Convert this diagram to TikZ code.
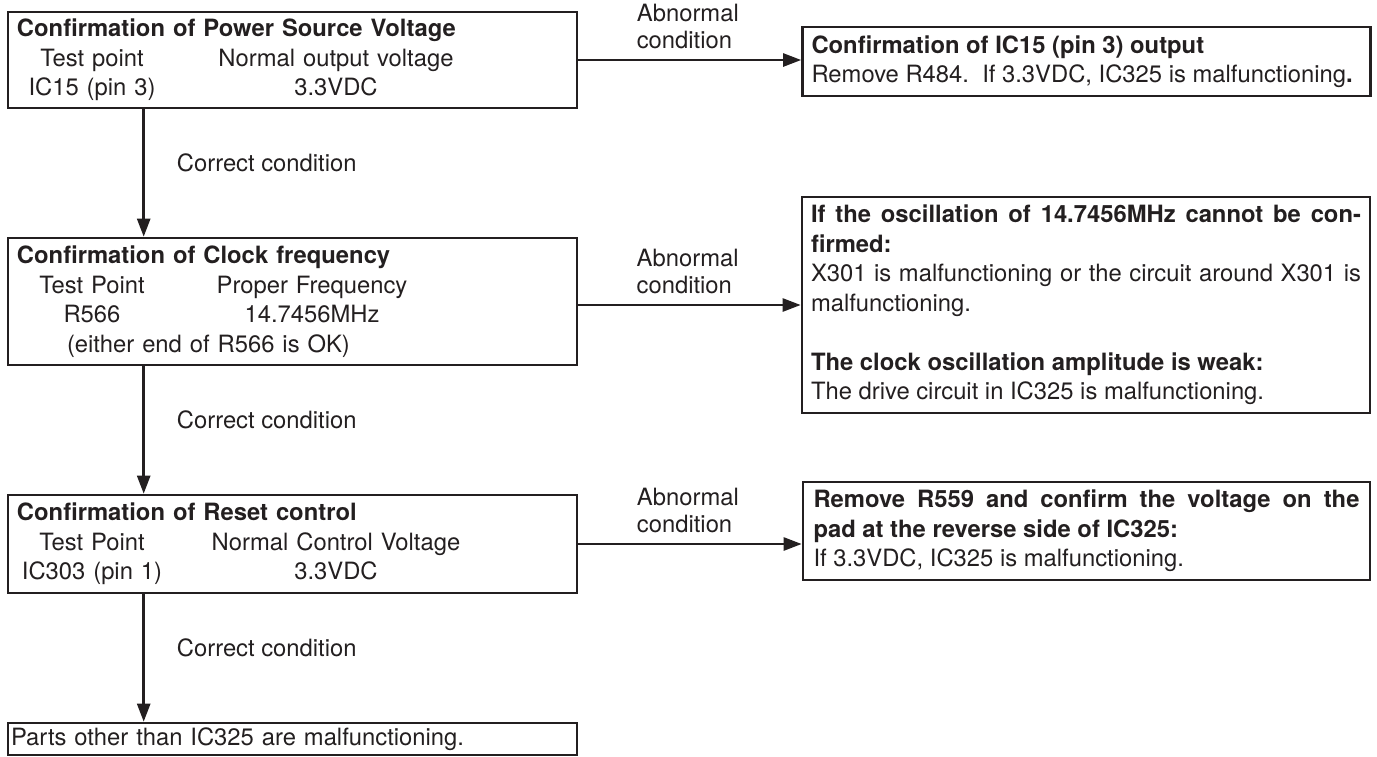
\documentclass[tikz,border=0pt]{standalone}
\usepackage{fontspec}
\setmainfont{TeX Gyre Heros}
\usetikzlibrary{arrows.meta}
\definecolor{ink}{HTML}{231F20}
\newcommand{\pair}[3][169pt]{\makebox[75pt]{#2}\makebox[#1]{#3}}

\tikzset{
  box/.style={draw=ink, line width=1.3pt, text=ink, inner xsep=4.5pt, inner ysep=0pt,
    text width=275.5pt, align=left, font=\fontsize{11.9pt}{14.75pt}\selectfont},
  note/.style={box, text width=275pt, minimum width=284pt, align=justify},
  arr/.style={draw=ink, line width=1.25pt, -{Triangle[length=9pt,width=6.5pt]}},
  abn/.style={text=ink, pos=0.257, anchor=south west, inner sep=0pt, yshift=5pt,
    align=left, font=\fontsize{11.9pt}{13.5pt}\selectfont},
  ok/.style={text=ink, pos=0.42, anchor=west, xshift=16pt, inner sep=0pt,
    font=\fontsize{11.9pt}{14.75pt}\selectfont}
}

\begin{document}
\begin{tikzpicture}[x=0.5pt, y=-0.5pt]
\useasboundingbox (0,0) rectangle (1377,756);
\node (power) [box, minimum height=48pt] at (292.5,60)
  {\textbf{Confirmation of Power Source Voltage}\\
   \pair{Test point}{Normal output voltage}\\
   \pair{IC15 (pin 3)}{3.3VDC}};
\node (icout) [note, minimum height=34.5pt] at (1086.5,61.5)
  {\textbf{Confirmation of IC15 (pin 3) output}\\
   Remove R484.~~If 3.3VDC, IC325 is malfunctioning\textbf{.}};
\node (clock) [box, minimum height=63.5pt] at (292.5,301.5)
  {\textbf{Confirmation of Clock frequency}\\
   \pair[145pt]{Test Point}{Proper Frequency}\\
   \pair[145pt]{R566}{14.7456MHz}\\
   \hspace*{25pt}(either end of R566 is OK)};
\node (osc) [note, minimum height=108pt] at (1086,305)
  {\textbf{If the oscillation of 14.7456MHz cannot be con-\linebreak firmed:}\\
   X301 is malfunctioning or the circuit around X301 is\linebreak malfunctioning.\\[14.75pt]
   \textbf{The clock oscillation amplitude is weak:}\\
   The drive circuit in IC325 is malfunctioning.};
\node (reset) [box, minimum height=49pt] at (292.5,544)
  {\textbf{Confirmation of Reset control}\\
   \pair{Test Point}{Normal Control Voltage}\\
   \pair{IC303 (pin 1)}{3.3VDC}};
\node (r559) [note, text width=273pt, minimum width=283.5pt, minimum height=49pt] at (1086.5,531)
  {\textbf{Remove R559 and confirm the voltage on the\linebreak pad at the reverse side of IC325:}\\
   If 3.3VDC, IC325 is malfunctioning.};
\node (parts) [box, inner xsep=1.5pt, text width=281.5pt, minimum height=16pt] at (292.5,739)
  {Parts other than IC325 are malfunctioning.};

\draw[arr] (power.east) -- node (ab1) [abn] {Abnormal\\condition} (power.east -| icout.west);
\draw[arr] (clock.east |- osc.west) -- node (ab2) [abn] {Abnormal\\condition} (osc.west);
\draw[arr] (reset.east) -- node (ab3) [abn] {Abnormal\\condition} (reset.east -| r559.west);

\draw[arr] ([xshift=68.5pt]power.south west) -- node (ok1) [ok] {Correct condition} ([xshift=68.5pt]clock.north west);
\draw[arr] ([xshift=68.5pt]clock.south west) -- node (ok2) [ok] {Correct condition} ([xshift=68.5pt]reset.north west);
\draw[arr] ([xshift=68.5pt]reset.south west) -- node (ok3) [ok] {Correct condition} ([xshift=68.5pt]parts.north west);
\end{tikzpicture}
\end{document}
